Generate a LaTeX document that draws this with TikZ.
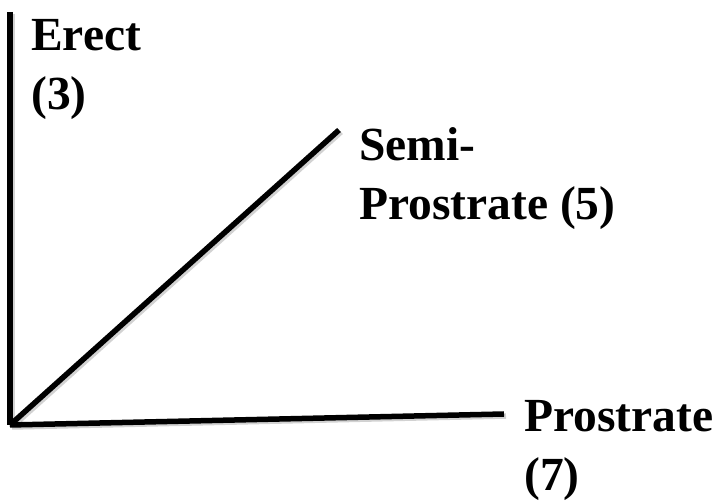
\documentclass[tikz,border=0pt]{standalone}
\usepackage{fontspec}
\setmainfont{Liberation Serif}
\usetikzlibrary{positioning}

\begin{document}
\begin{tikzpicture}[x=1pt,y=-1pt,line cap=butt,line join=miter,
  habit/.style={line width=5.5pt, black,
    preaction={draw, gray!35, line width=5.5pt, transform canvas={shift={(2pt,-2pt)}}}},
  habitlabel/.style={anchor=base west, inner sep=0pt, align=left,
    font=\bfseries\fontsize{47.5}{59}\selectfont}]
  \useasboundingbox (0,0) rectangle (718,502);

  % end points of the three habit lines
  \coordinate (origin) at (10,425);
  \coordinate (erect) at (10,12);
  \coordinate (semi) at (339,130);
  \coordinate (prost) at (504,414);

  % lines
  \draw[habit] (erect) -- (origin);
  \draw[habit] (origin) -- (semi);
  \draw[habit] (origin) -- (prost);

  % labels (base anchor sits on the last line)
  \node[habitlabel] (erectlabel) at (31,110) {Erect\\(3)};
  \node[habitlabel] (semilabel) at (359,220) {Semi-\\Prostrate (5)};
  \node[habitlabel] (prostlabel) at (524,491) {Prostrate\\(7)};
\end{tikzpicture}
\end{document}
